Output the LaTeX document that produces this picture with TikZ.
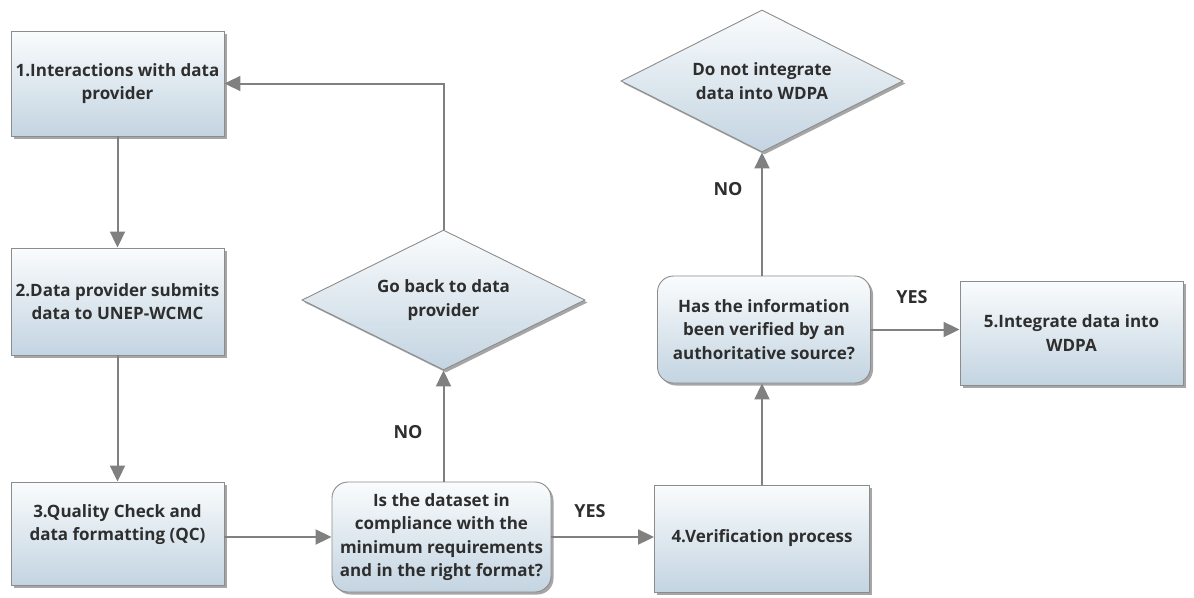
\documentclass[tikz,border=0pt]{standalone}
\usepackage{fontspec}
\setmainfont{Open Sans}
\usetikzlibrary{shapes.geometric,shadows,arrows.meta}
\definecolor{boxline}{HTML}{8C8C8C}
\definecolor{fillTop}{HTML}{FAFCFD}
\definecolor{fillBot}{HTML}{C3D4E1}
\definecolor{txt}{HTML}{2E2E2E}
\definecolor{arrc}{HTML}{808080}
\begin{document}
\begin{tikzpicture}[x=1pt,y=-1pt,
  base/.style={draw=boxline, line width=0.9pt, top color=fillTop, bottom color=fillBot,
    drop shadow={shadow xshift=2.5pt,shadow yshift=-2.5pt,fill=black,opacity=0.35},
    align=center, font=\bfseries\fontsize{17}{23.5}\selectfont, text=txt, inner sep=0pt},
  stepbox/.style={base, rectangle},
  decbox/.style={base, rectangle, rounded corners=16pt},
  decdia/.style={base, diamond, aspect=2},
  arr/.style={draw=arrc, line width=2pt, -{Triangle[length=16pt,width=15pt]}},
  lab/.style={font=\bfseries\fontsize{18}{20}\selectfont, text=txt}
]
\useasboundingbox (0,0) rectangle (1194,597);

\node[stepbox, minimum width=213pt, minimum height=105pt] (b1) at (117.5,83.5)
  {1.Interactions with data\\provider};
\node[stepbox, minimum width=213pt, minimum height=107pt] (b2) at (117.5,301.5)
  {2.Data provider submits\\data to UNEP-WCMC};
\node[stepbox, minimum width=213pt, minimum height=103pt, text depth=22pt] (b3) at (117.5,533.5)
  {3.Quality Check and\\data formatting (QC)};
\node[decbox, minimum width=219pt, minimum height=110pt] (d1) at (441.5,537)
  {Is the dataset in\\compliance with the\\minimum requirements\\and in the right format?};
\node[stepbox, minimum width=215pt, minimum height=107pt] (b4) at (762,538.5)
  {4.Verification process};
\node[decdia, minimum width=283pt, minimum height=140pt] (g1) at (443.5,300)
  {Go back to data\\provider};
\node[decbox, minimum width=213pt, minimum height=107pt] (d2) at (764,329.5)
  {Has the information\\been verified by an\\authoritative source?};
\node[decdia, minimum width=282pt, minimum height=142pt] (g2) at (762,81)
  {Do not integrate\\data into WDPA};
\node[stepbox, minimum width=223pt, minimum height=104pt] (b5) at (1071.5,333)
  {5.Integrate data into\\WDPA};

\draw[arr] (b1.south) -- (b2.north);
\draw[arr] (b2.south) -- (b3.north);
\draw[arr] (b3.east |- d1.west) -- (d1.west);
\draw[arr] (d1.east) -- (b4.west |- d1.east);
\draw[arr] (d1.north -| g1.south) -- (g1.south);
\draw[arr] (g1.north) |- (b1.east);
\draw[arr] (b4.north) -- (d2.south -| b4.north);
\draw[arr] (d2.north -| g2.south) -- (g2.south);
\draw[arr] (d2.east) -- (b5.west |- d2.east);

\node[lab] (no1) at (408,432) {NO};
\node[lab] (yes1) at (590,511) {YES};
\node[lab] (no2) at (728,189) {NO};
\node[lab] (yes2) at (912,297) {YES};
\end{tikzpicture}
\end{document}
